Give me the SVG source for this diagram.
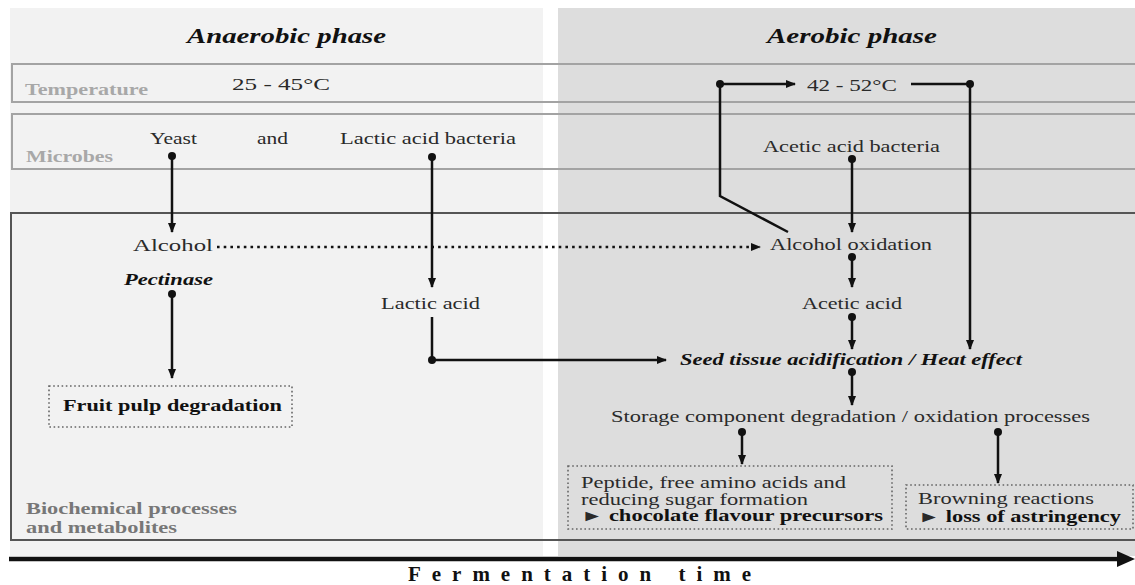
<svg xmlns="http://www.w3.org/2000/svg" width="1135" height="585" viewBox="0 0 1135 585">
<style>
text{font-family:"Liberation Serif","Times New Roman",serif;fill:#2a2a2a;font-size:17px}
.title{font-size:20px;font-weight:bold;font-style:italic;fill:#111}
.lab{font-size:16px;font-weight:bold;fill:#a8a8a8}
.lab2{font-size:16px;font-weight:bold;fill:#777}
.bi{font-weight:bold;font-style:italic;fill:#111}
.b{font-weight:bold;fill:#111}
.sm{font-size:16px}
.axis{font-size:21px;font-weight:bold;fill:#111}
.band{fill:none;stroke:#a3a3a3;stroke-width:2}
.bio{fill:none;stroke:#555;stroke-width:2}
.dbox{fill:none;stroke:#666;stroke-width:1.6;stroke-dasharray:1.6 2.6}
.c{fill:none;stroke:#111;stroke-width:2.5}
.dotted{fill:none;stroke:#111;stroke-width:2.6;stroke-dasharray:2.6 4.1}
</style>
<defs>
<marker id="arr" markerUnits="userSpaceOnUse" viewBox="0 0 10 10" refX="9" refY="5" markerWidth="10" markerHeight="10" orient="auto"><path d="M0,1 L10,5 L0,9 z" fill="#111"/></marker>
<marker id="dot" markerUnits="userSpaceOnUse" viewBox="0 0 9 9" refX="4.5" refY="4.5" markerWidth="9" markerHeight="9"><circle cx="4.5" cy="4.5" r="4" fill="#111"/></marker>
</defs>
<g id="background">
<rect x="10" y="8" width="533" height="548" fill="#f2f2f2"/>
<rect x="558" y="8" width="577" height="548" fill="#dddddd"/>
</g>
<g id="bands">
<rect class="band" x="12" y="64" width="1130" height="38"/>
<rect class="band" x="12" y="114" width="1130" height="55"/>
<rect class="bio" x="11" y="213" width="1130" height="327"/>
</g>
<g id="titles">
<text class="title" x="187" y="43" textLength="199" lengthAdjust="spacingAndGlyphs">Anaerobic phase</text>
<text class="title" x="767" y="43" textLength="170" lengthAdjust="spacingAndGlyphs">Aerobic phase</text>
</g>
<g id="row-labels">
<text class="lab" x="25" y="95" textLength="123" lengthAdjust="spacingAndGlyphs">Temperature</text>
<text class="lab" x="26" y="162" textLength="87" lengthAdjust="spacingAndGlyphs">Microbes</text>
<text class="lab2" x="26" y="514" textLength="211" lengthAdjust="spacingAndGlyphs">Biochemical processes</text>
<text class="lab2" x="26" y="533" textLength="151" lengthAdjust="spacingAndGlyphs">and metabolites</text>
</g>
<g id="temp1"><text x="232" y="90" textLength="98" lengthAdjust="spacingAndGlyphs">25 - 45°C</text></g>
<g id="temp2"><text x="807" y="91" textLength="90" lengthAdjust="spacingAndGlyphs">42 - 52°C</text></g>
<g id="yeast"><text x="150" y="144" textLength="47" lengthAdjust="spacingAndGlyphs">Yeast</text></g>
<g id="and"><text x="257" y="144" textLength="31" lengthAdjust="spacingAndGlyphs">and</text></g>
<g id="lab"><text x="340" y="144" textLength="176" lengthAdjust="spacingAndGlyphs">Lactic acid bacteria</text></g>
<g id="aab"><text x="763" y="152" textLength="177" lengthAdjust="spacingAndGlyphs">Acetic acid bacteria</text></g>
<g id="alcohol"><text x="133" y="251" textLength="80" lengthAdjust="spacingAndGlyphs">Alcohol</text></g>
<g id="alcohol-oxidation"><text x="770" y="250" textLength="162" lengthAdjust="spacingAndGlyphs">Alcohol oxidation</text></g>
<g id="pectinase"><text class="bi" x="124" y="285" textLength="89" lengthAdjust="spacingAndGlyphs">Pectinase</text></g>
<g id="lactic-acid"><text x="381" y="309" textLength="99" lengthAdjust="spacingAndGlyphs">Lactic acid</text></g>
<g id="acetic-acid"><text x="802" y="309" textLength="100" lengthAdjust="spacingAndGlyphs">Acetic acid</text></g>
<g id="seed"><text class="bi" x="680" y="365" textLength="342" lengthAdjust="spacingAndGlyphs">Seed tissue acidification / Heat effect</text></g>
<g id="fruit-pulp">
<rect class="dbox" x="49" y="386" width="243" height="41"/>
<text class="b" x="63" y="411" textLength="219" lengthAdjust="spacingAndGlyphs">Fruit pulp degradation</text>
</g>
<g id="storage"><text x="611" y="422" textLength="479" lengthAdjust="spacingAndGlyphs">Storage component degradation / oxidation processes</text></g>
<g id="peptide">
<rect class="dbox" x="568" y="466" width="324" height="63"/>
<text class="sm" x="581" y="488" textLength="265" lengthAdjust="spacingAndGlyphs">Peptide, free amino acids and</text>
<text class="sm" x="581" y="504.5" textLength="227" lengthAdjust="spacingAndGlyphs">reducing sugar formation</text>
<text class="sm" x="581" y="521" textLength="302" lengthAdjust="spacingAndGlyphs">► <tspan class="b">chocolate flavour precursors</tspan></text>
</g>
<g id="browning">
<rect class="dbox" x="906" y="485" width="227" height="44"/>
<text class="sm" x="918" y="504" textLength="176" lengthAdjust="spacingAndGlyphs">Browning reactions</text>
<text class="sm" x="918" y="522" textLength="203" lengthAdjust="spacingAndGlyphs">► <tspan class="b">loss of astringency</tspan></text>
</g>
<g id="connectors">
<path class="c" d="M172,156 L172,232" marker-start="url(#dot)" marker-end="url(#arr)"/>
<path class="c" d="M432,157 L432,287" marker-start="url(#dot)" marker-end="url(#arr)"/>
<path class="c" d="M432,317 L432,360 L666,360" marker-end="url(#arr)"/>
<circle cx="432" cy="360" r="4" fill="#111"/>
<path class="dotted" d="M217,247 L760,247" marker-end="url(#arr)"/>
<path class="c" d="M172,294 L172,378" marker-start="url(#dot)" marker-end="url(#arr)"/>
<path class="c" d="M852,159 L852,232" marker-start="url(#dot)" marker-end="url(#arr)"/>
<path class="c" d="M852,257 L852,287" marker-start="url(#dot)" marker-end="url(#arr)"/>
<path class="c" d="M852,317 L852,349" marker-start="url(#dot)" marker-end="url(#arr)"/>
<path class="c" d="M852,372 L852,405" marker-start="url(#dot)" marker-end="url(#arr)"/>
<path class="c" d="M742,432 L742,464" marker-start="url(#dot)" marker-end="url(#arr)"/>
<path class="c" d="M998,432 L998,483" marker-start="url(#dot)" marker-end="url(#arr)"/>
<path class="c" d="M788,232 L720,196 L720,84 L795,84" marker-end="url(#arr)"/>
<circle cx="720" cy="84" r="4" fill="#111"/>
<path class="c" d="M911,84 L970,84 L970,349" marker-end="url(#arr)"/>
<circle cx="970" cy="84" r="4" fill="#111"/>
</g>
<g id="time-axis">
<line x1="9" y1="559" x2="1120" y2="559" stroke="#111" stroke-width="4.5"/>
<polygon points="1117,551 1135,559 1117,567" fill="#111"/>
<text class="axis" x="408" y="581" textLength="343" lengthAdjust="spacing">Fermentation time</text>
</g>
</svg>
